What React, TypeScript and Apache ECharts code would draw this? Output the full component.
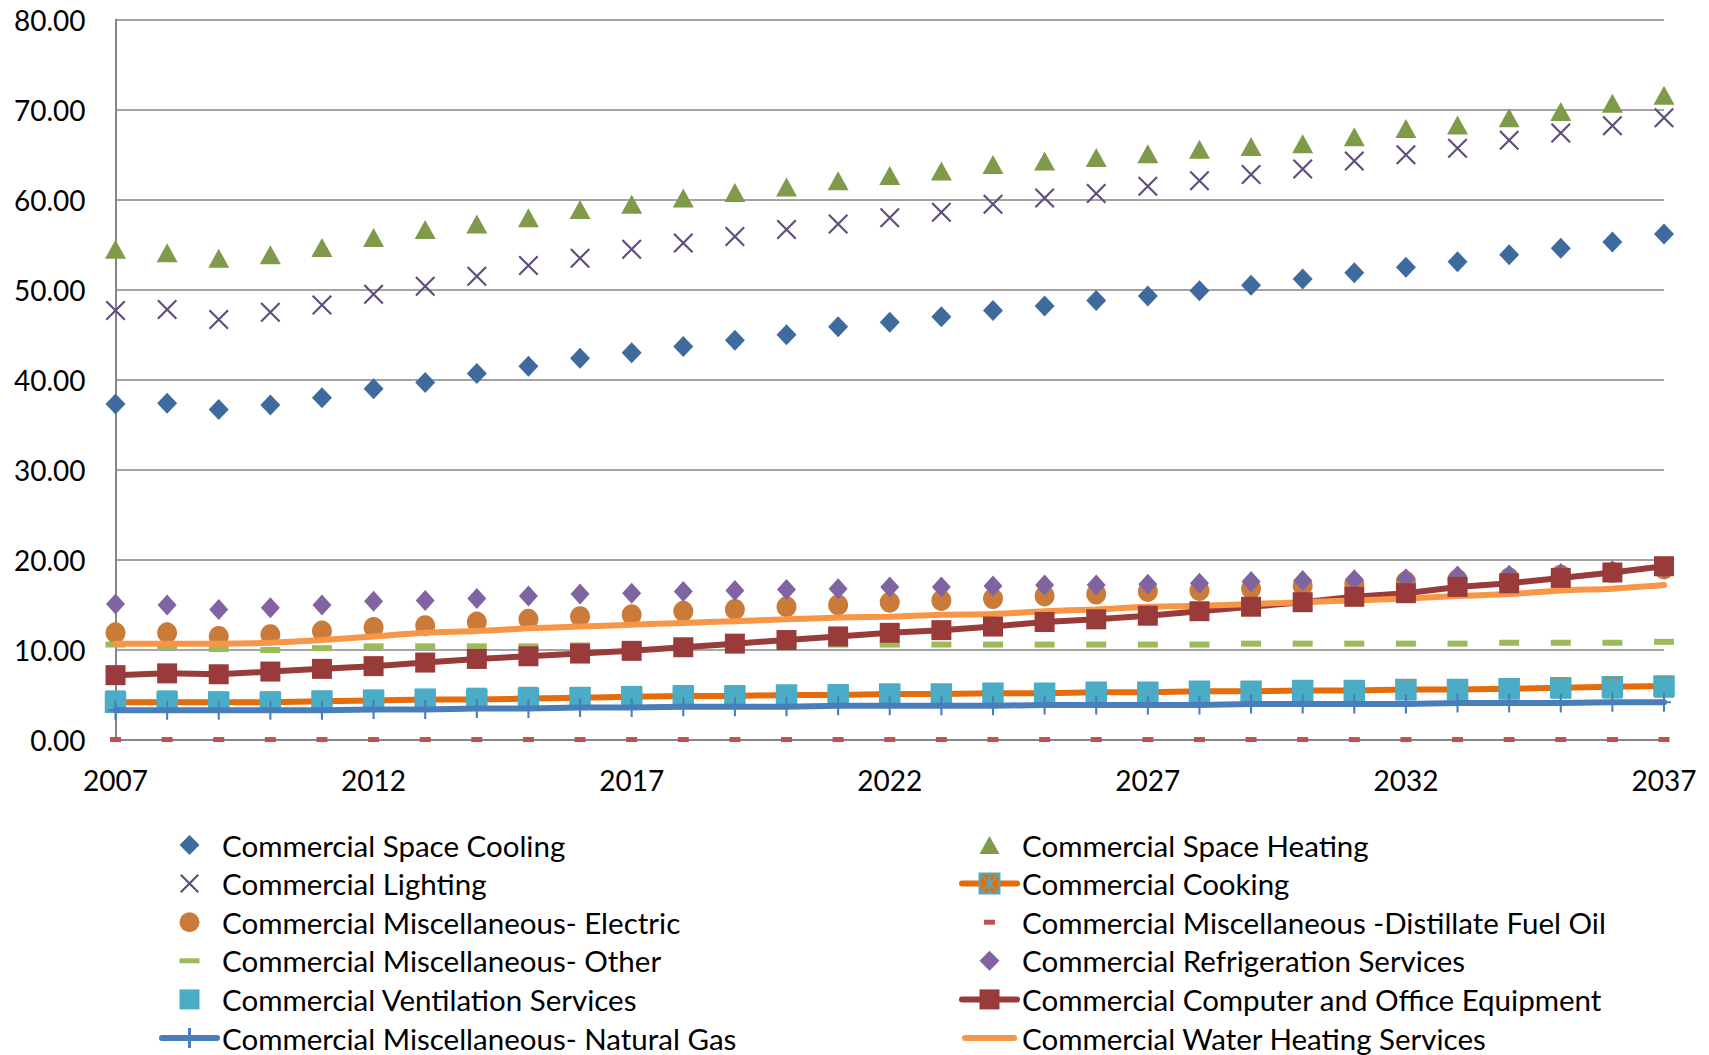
import React, { useEffect, useRef } from "react";
import * as echarts from "echarts";

const years = [
  "2007", "2008", "2009", "2010", "2011", "2012", "2013", "2014", "2015", "2016",
  "2017", "2018", "2019", "2020", "2021", "2022", "2023", "2024", "2025", "2026",
  "2027", "2028", "2029", "2030", "2031", "2032", "2033", "2034", "2035", "2036", "2037",
];

const spaceCooling = [37.3, 37.4, 36.7, 37.2, 38.0, 39.0, 39.7, 40.7, 41.5, 42.4, 43.0, 43.7, 44.4, 45.0, 45.9, 46.4, 47.0, 47.7, 48.2, 48.8, 49.3, 49.9, 50.5, 51.2, 51.9, 52.5, 53.1, 53.9, 54.6, 55.3, 56.2];
const spaceHeating = [54.5, 54.1, 53.5, 53.9, 54.7, 55.8, 56.7, 57.3, 58.0, 58.9, 59.5, 60.2, 60.8, 61.4, 62.1, 62.7, 63.2, 63.9, 64.3, 64.7, 65.1, 65.6, 65.9, 66.2, 67.0, 67.9, 68.3, 69.1, 69.8, 70.7, 71.6];
const lighting = [47.7, 47.8, 46.7, 47.5, 48.3, 49.5, 50.4, 51.5, 52.7, 53.5, 54.5, 55.2, 55.9, 56.7, 57.3, 58.0, 58.6, 59.5, 60.2, 60.7, 61.5, 62.1, 62.8, 63.4, 64.3, 65.0, 65.7, 66.6, 67.4, 68.2, 69.1];
const cooking = [4.2, 4.2, 4.2, 4.2, 4.3, 4.4, 4.5, 4.5, 4.6, 4.7, 4.8, 4.9, 4.9, 5.0, 5.0, 5.1, 5.1, 5.2, 5.2, 5.3, 5.3, 5.4, 5.4, 5.5, 5.5, 5.6, 5.6, 5.7, 5.8, 5.9, 6.0];
const miscElectric = [11.9, 11.9, 11.5, 11.7, 12.1, 12.5, 12.7, 13.1, 13.4, 13.7, 13.9, 14.3, 14.5, 14.8, 15.0, 15.3, 15.5, 15.7, 16.0, 16.2, 16.5, 16.6, 16.8, 17.1, 17.3, 17.6, 17.8, 18.0, 18.3, 18.6, 19.0];
const miscDistillate = [0.05, 0.05, 0.05, 0.05, 0.05, 0.05, 0.05, 0.05, 0.05, 0.05, 0.05, 0.05, 0.05, 0.05, 0.05, 0.05, 0.05, 0.05, 0.05, 0.05, 0.05, 0.05, 0.05, 0.05, 0.05, 0.05, 0.05, 0.05, 0.05, 0.05, 0.05];
const miscOther = [10.6, 10.4, 10.1, 10.0, 10.2, 10.4, 10.4, 10.4, 10.4, 10.5, 10.5, 10.5, 10.6, 10.6, 10.6, 10.6, 10.6, 10.6, 10.6, 10.6, 10.6, 10.6, 10.7, 10.7, 10.7, 10.7, 10.7, 10.8, 10.8, 10.8, 10.9];
const refrigeration = [15.1, 15.0, 14.5, 14.7, 15.0, 15.4, 15.5, 15.7, 16.0, 16.2, 16.3, 16.5, 16.6, 16.7, 16.8, 17.0, 17.0, 17.1, 17.2, 17.2, 17.3, 17.4, 17.6, 17.7, 17.8, 17.9, 18.2, 18.3, 18.5, 18.8, 19.1];
const ventilation = [4.4, 4.4, 4.3, 4.3, 4.4, 4.5, 4.6, 4.7, 4.8, 4.8, 4.9, 5.0, 5.0, 5.0, 5.1, 5.1, 5.1, 5.2, 5.2, 5.3, 5.3, 5.4, 5.4, 5.5, 5.5, 5.5, 5.6, 5.6, 5.7, 5.7, 5.8];
const computerOffice = [7.2, 7.4, 7.3, 7.6, 7.9, 8.2, 8.6, 9.0, 9.3, 9.6, 9.9, 10.3, 10.7, 11.1, 11.5, 11.9, 12.2, 12.6, 13.1, 13.4, 13.8, 14.3, 14.8, 15.3, 15.9, 16.3, 17.0, 17.4, 18.0, 18.6, 19.3];
const miscNaturalGas = [3.3, 3.3, 3.3, 3.3, 3.3, 3.4, 3.4, 3.5, 3.5, 3.6, 3.6, 3.7, 3.7, 3.7, 3.8, 3.8, 3.8, 3.8, 3.9, 3.9, 3.9, 3.9, 4.0, 4.0, 4.0, 4.0, 4.1, 4.1, 4.1, 4.2, 4.2];
const waterHeating = [10.7, 10.7, 10.7, 10.8, 11.1, 11.5, 11.9, 12.1, 12.4, 12.6, 12.8, 13.0, 13.2, 13.4, 13.6, 13.7, 13.9, 14.0, 14.3, 14.5, 14.8, 14.9, 15.1, 15.3, 15.5, 15.7, 16.0, 16.2, 16.6, 16.8, 17.2];

const yTicks = [0, 10, 20, 30, 40, 50, 60, 70, 80];

const FONT = "Lato";

const X_PATH = "path://M0,1.5L1.5,0L20,18.5L18.5,20ZM18.5,0L20,1.5L1.5,20L0,18.5Z";
const PLUS_PATH = "path://M8.5,0h3v20h-3zM0,9h20v2h-20z";
const COOK_PATH = "path://M0,0H20V20H0ZM0,0L20,20M20,0L0,20M10,0V20";

const ICON_BOX = "path://M0,0M55,25";
const icons = {
  diamond: ICON_BOX + "M27.5,2.5L37.5,12.5L27.5,22.5L17.5,12.5Z",
  triangle: ICON_BOX + "M27.5,3.5L37.5,21.5L17.5,21.5Z",
  cross: ICON_BOX + "M18,4.5L19.5,3L37,20.5L35.5,22ZM35.5,3L37,4.5L19.5,22L18,20.5Z",
  circle: ICON_BOX + "M17.5,12.5A10,10 0 1 1 37.5,12.5A10,10 0 1 1 17.5,12.5Z",
  greenDash: ICON_BOX + "M17.5,10h20v5h-20z",
  redDash: ICON_BOX + "M22,10h11v5h-11z",
  square: ICON_BOX + "M17.5,2.5h20v20h-20z",
  line: ICON_BOX + "M3,9.5h49a3,3 0 0 1 0,6h-49a3,3 0 0 1 0,-6z",
};

const names = {
  cooling: "Commercial Space Cooling",
  heating: "Commercial Space Heating",
  lighting: "Commercial Lighting",
  cooking: "Commercial Cooking",
  electric: "Commercial Miscellaneous- Electric",
  distillate: "Commercial Miscellaneous -Distillate Fuel Oil",
  other: "Commercial Miscellaneous- Other",
  refrig: "Commercial Refrigeration Services",
  vent: "Commercial Ventilation Services",
  computer: "Commercial Computer and Office Equipment",
  natgas: "Commercial Miscellaneous- Natural Gas",
  water: "Commercial Water Heating Services",
};

function scatter(name: string, data: number[], symbol: string, size: number[], color: string, z = 2) {
  return {
    type: "scatter",
    name,
    data,
    symbol,
    symbolSize: size,
    z,
    itemStyle: { color, opacity: 1 },
    emphasis: { disabled: true },
  };
}

function lineSeries(
  name: string,
  data: number[],
  color: string,
  symbol: string,
  size: number[],
  itemStyle: any,
  z: number,
  smooth: any = false
) {
  return {
    type: "line",
    name,
    data,
    symbol,
    symbolSize: size,
    showSymbol: symbol !== "none",
    smooth,
    z,
    lineStyle: { color, width: 6, cap: "round" },
    itemStyle: { color, ...itemStyle },
    emphasis: { disabled: true },
  };
}

export default function App() {
  const ref = useRef<HTMLDivElement>(null);

  useEffect(() => {
    if (!ref.current) return;
    const chart = echarts.init(ref.current, null, { renderer: "svg" });

    const legendCommon = {
      orient: "vertical",
      top: 830,
      height: 300,
      padding: 0,
      itemWidth: 55,
      itemHeight: 25,
      itemGap: 8.6,
      symbolKeepAspect: true,
      selectedMode: false,
      lineStyle: { width: 6, cap: "round" },
      textStyle: { fontSize: 29.5, lineHeight: 30, fontFamily: FONT, color: "#000" },
    };

    const option: any = {
      animation: false,
      backgroundColor: "#ffffff",
      grid: { left: 115.5, right: 45, top: 19.6, bottom: 315, containLabel: false },
      xAxis: {
        type: "category",
        data: years,
        boundaryGap: false,
        axisLine: { show: true, lineStyle: { color: "#868686", width: 2 } },
        axisTick: { show: false },
        axisLabel: {
          interval: 4,
          margin: 26,
          fontSize: 28,
          fontFamily: FONT,
          color: "#000",
        },
        splitLine: { show: false },
      },
      yAxis: {
        type: "value",
        min: yTicks[0],
        max: yTicks[yTicks.length - 1],
        interval: 10,
        axisLine: { show: true, lineStyle: { color: "#868686", width: 2 } },
        axisTick: { show: false },
        axisLabel: {
          margin: 30,
          fontSize: 28,
          fontFamily: FONT,
          color: "#000",
          formatter: (v: number) => v.toFixed(2),
        },
        splitLine: { show: true, lineStyle: { color: "#868686", width: 1.6 } },
      },
      legend: [
        {
          ...legendCommon,
          left: 159,
          data: [
            { name: names.cooling, icon: icons.diamond },
            { name: names.lighting, icon: icons.cross },
            { name: names.electric, icon: icons.circle },
            { name: names.other, icon: icons.greenDash },
            { name: names.vent, icon: icons.square },
            { name: names.natgas },
          ],
        },
        {
          ...legendCommon,
          left: 959,
          data: [
            { name: names.heating, icon: icons.triangle },
            { name: names.cooking },
            { name: names.distillate, icon: icons.redDash },
            { name: names.refrig, icon: icons.diamond },
            { name: names.computer },
            { name: names.water, icon: icons.line },
          ],
        },
      ],
      series: [
        scatter(names.cooling, spaceCooling, "diamond", [20, 21], "#3E6A9E"),
        scatter(names.heating, spaceHeating, "triangle", [21, 19], "#7F9A48"),
        scatter(names.lighting, lighting, X_PATH, [20, 20], "#5F4B7D"),
        lineSeries(names.cooking, cooking, "#E46C0A", COOK_PATH, [20, 20], {
          color: "#E46C0A",
          borderColor: "#4BACC6",
          borderWidth: 1.5,
        }, 2),
        scatter(names.electric, miscElectric, "circle", [20, 21], "#CB7B39"),
        scatter(names.distillate, miscDistillate, "rect", [11, 5], "#C0504D"),
        scatter(names.other, miscOther, "rect", [20, 6], "#9BBB59"),
        scatter(names.refrig, refrigeration, "diamond", [19, 21], "#8064A2"),
        scatter(names.vent, ventilation, "rect", [20, 20], "#4BACC6", 3),
        lineSeries(names.computer, computerOffice, "#9A3B3B", "rect", [20, 20], {}, 3),
        lineSeries(names.natgas, miscNaturalGas, "#4A7EBB", PLUS_PATH, [14, 19], {}, 4),
        lineSeries(names.water, waterHeating, "#F79646", "none", [0, 0], {}, 3, 0.3),
      ],
    };

    chart.setOption(option);
    return () => chart.dispose();
  }, []);

  return (
    <div
      ref={ref}
      style={{ position: "fixed", left: 0, top: 0, width: 1709, height: 1055, background: "#fff" }}
    />
  );
}
